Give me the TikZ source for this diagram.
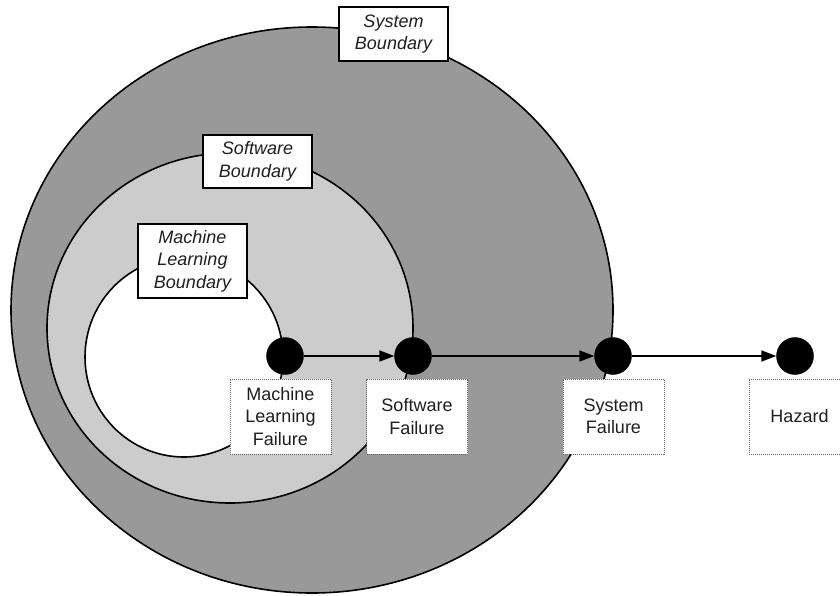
\documentclass[tikz,border=0pt]{standalone}
\usepackage{fontspec}
\setmainfont{Liberation Sans}
\usetikzlibrary{arrows.meta}

\tikzset{
  boundary/.style={draw=black, line width=1.6pt},
  tagbox/.style={draw=black, line width=1.4pt, fill=white, inner sep=0pt,
    minimum width=109pt, align=center, font=\fontsize{18}{22.5}\selectfont\itshape, text=black!88},
  failbox/.style={draw=black!60, line width=1pt, dash pattern=on 1pt off 1pt, fill=white,
    inner sep=0pt, minimum width=101pt, minimum height=75pt, align=center,
    font=\fontsize{18}{22.5}\selectfont, text=black!88},
  event/.style={circle, fill=black, draw=black, minimum size=37pt, inner sep=0pt},
  flow/.style={line width=1.6pt, -{Triangle[length=15pt,width=11pt]}}
}

\begin{document}
\begin{tikzpicture}[x=1pt,y=-1pt]
\useasboundingbox (0,0) rectangle (840,595);
\clip (0,0) rectangle (840,595);

% nested boundaries
\draw[boundary, fill=black!40] (312,310) ellipse [x radius=301, y radius=283];
\draw[boundary, fill=black!20] (230,328) ellipse [x radius=183, y radius=175];
\draw[boundary, fill=white]    (184,357) ellipse [x radius=99,  y radius=100];

% boundary labels
\node[tagbox, minimum height=54pt] (sysb) at (393.5,34)  {System\\Boundary};
\node[tagbox, minimum height=53pt] (swb)  at (257.5,161.5) {Software\\Boundary};
\node[tagbox, minimum height=74pt] (mlb)  at (192.5,261) {Machine\\Learning\\Boundary};

% failure labels
\node[failbox] (mlf)  at (280.5,416.5) {Machine\\Learning\\Failure};
\node[failbox] (swf)  at (417,416.5)   {Software\\Failure};
\node[failbox] (sysf) at (613.5,416.5) {System\\Failure};
\node[failbox] (haz)  at (799.5,416.5) {Hazard};

% failure propagation chain
\node[event] (e1) at (285,356) {};
\node[event] (e2) at (413,356) {};
\node[event] (e3) at (613,356) {};
\node[event] (e4) at (795,356) {};

\draw[flow] (e1) -- (e2);
\draw[flow] (e2) -- (e3);
\draw[flow] (e3) -- (e4);
\end{tikzpicture}
\end{document}
